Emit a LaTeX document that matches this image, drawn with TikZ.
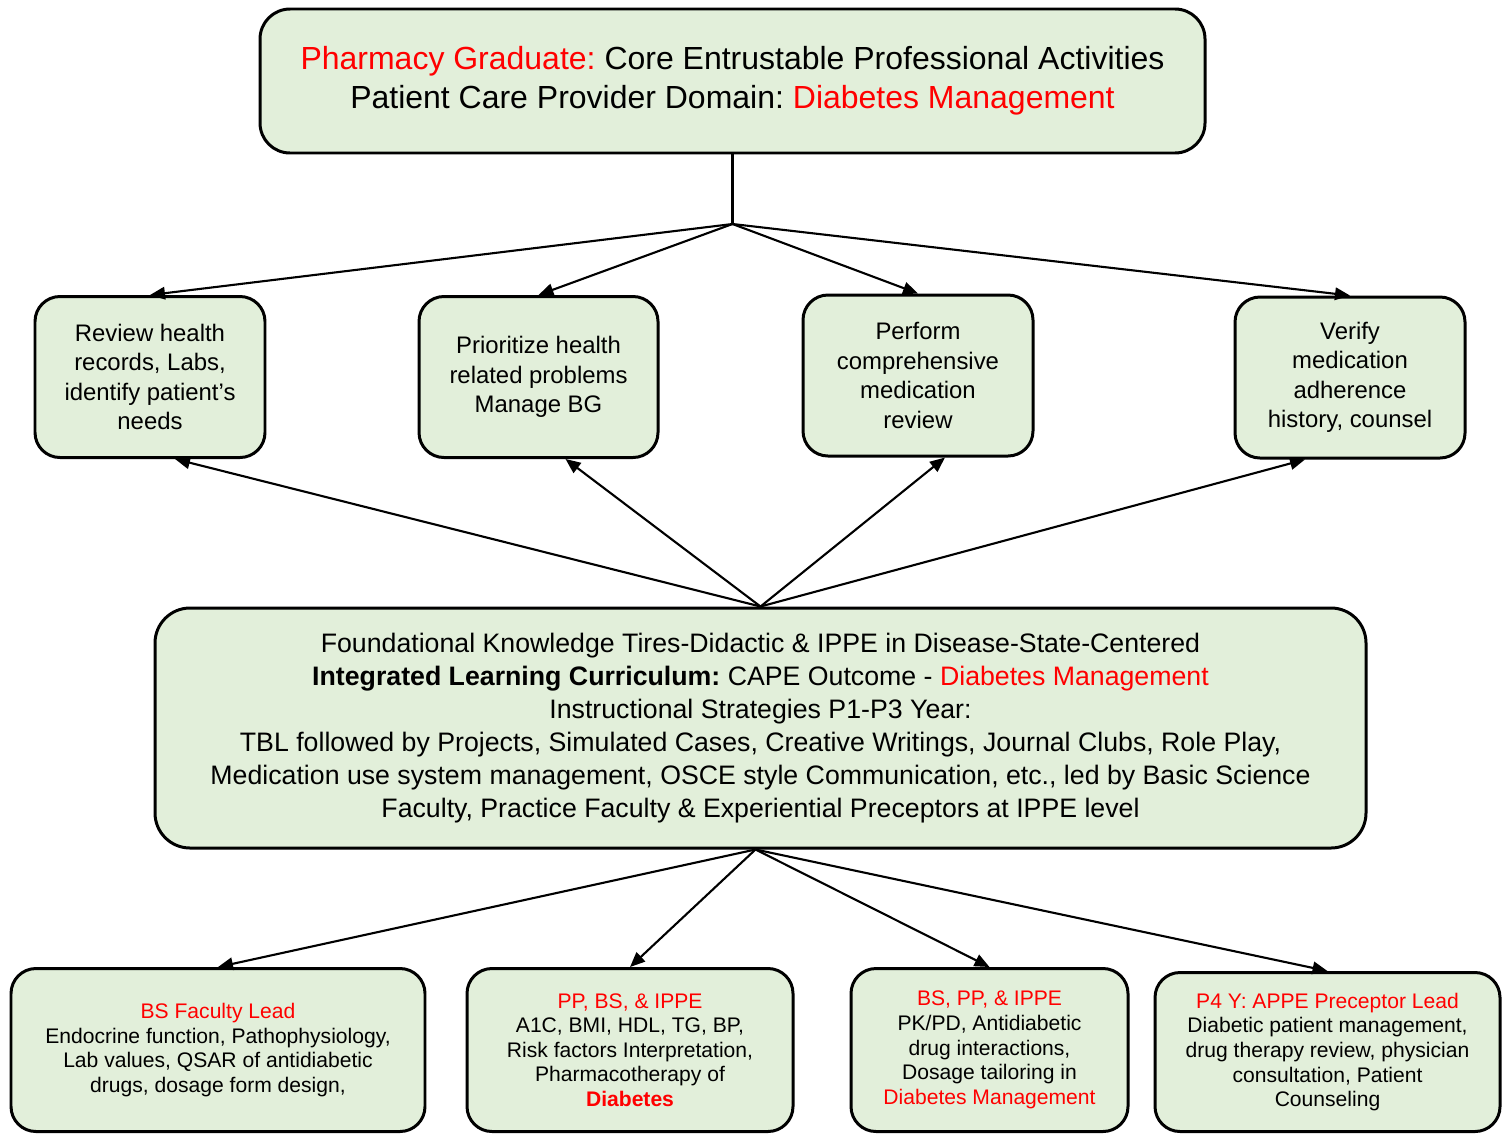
\documentclass[tikz,border=0pt]{standalone}
\usepackage{fontspec}
\setmainfont{Liberation Sans}
\usetikzlibrary{arrows.meta}
\definecolor{boxgreen}{RGB}{226,239,218}
\definecolor{hlred}{RGB}{255,0,0}
\newcommand{\redtxt}[1]{\textcolor{hlred}{#1}}
\frenchspacing

\begin{document}
\begin{tikzpicture}[
    x=0.1mm, y=-0.1mm,
    box/.style={rectangle, draw, line width=0.85pt, rounded corners=2.5mm, fill=boxgreen, align=center, inner sep=0pt},
    goal/.style={box, minimum width=94.5mm, minimum height=14.4mm, rounded corners=3mm, font={\fontsize{9.1}{11.1}\selectfont}},
    task/.style={box, minimum width=23mm, minimum height=16.1mm, font={\fontsize{6.8}{8.4}\selectfont}},
    core/.style={box, minimum width=121.1mm, minimum height=24mm, rounded corners=3.5mm, font={\fontsize{7.6}{9.4}\selectfont}},
    lead/.style={box, minimum height=16.3mm, font={\fontsize{6}{7}\selectfont}},
    arrow/.style={-{Triangle[length=1.5mm,width=1.25mm]}, line width=0.6pt}
]
\useasboundingbox (0,0) rectangle (1509,1133);

\node[goal] (goal) at (732.5,81) {\redtxt{Pharmacy Graduate:} Core Entrustable Professional Activities\\Patient Care Provider Domain: \redtxt{Diabetes Management}};

\node[task] (t1) at (150,377) {Review health\\records, Labs,\\identify patient's\\needs};
\node[task, minimum width=23.9mm] (t2) at (538.5,377) {Prioritize health\\related problems\\Manage BG};
\node[task] (t3) at (918,375.5) {Perform\\comprehensive\\medication\\review};
\node[task] (t4) at (1350,377.5) {Verify\\medication\\adherence\\history, counsel};

\node[core] (core) at (760.5,728) {Foundational Knowledge Tires-Didactic \& IPPE in Disease-State-Centered\\
    \textbf{Integrated Learning Curriculum:} CAPE Outcome - \redtxt{Diabetes Management}\\
    Instructional Strategies P1-P3 Year:\\
    TBL followed by Projects, Simulated Cases, Creative Writings, Journal Clubs, Role Play,\\
    Medication use system management, OSCE style Communication, etc., led by Basic Science\\
    Faculty, Practice Faculty \& Experiential Preceptors at IPPE level};

\node[lead, minimum width=41.4mm] (l1) at (218,1050) {\redtxt{BS Faculty Lead}\\Endocrine function, Pathophysiology,\\Lab values, QSAR of antidiabetic\\drugs, dosage form design,};
\node[lead, minimum width=32.6mm] (l2) at (630,1050) {\redtxt{PP, BS, \& IPPE}\\A1C, BMI, HDL, TG, BP,\\Risk factors Interpretation,\\Pharmacotherapy of\\\redtxt{\textbf{Diabetes}}};
\node[lead, minimum width=27.7mm] (l3) at (989.5,1050) {\redtxt{BS, PP, \& IPPE}\\PK/PD, Antidiabetic\\drug interactions,\\Dosage tailoring in\\\redtxt{Diabetes Management}};
\node[lead, minimum width=34.5mm, minimum height=15.9mm] (l4) at (1327.5,1052) {\redtxt{P4 Y: APPE Preceptor Lead}\\Diabetic patient management,\\drug therapy review, physician\\consultation, Patient\\Counseling};

% goal down to the four tasks
\coordinate (hub) at (732.5,224);
\draw[line width=0.6pt] (goal.south) -- (hub);
\foreach \t in {t1,t2,t3,t4}
    \draw[arrow] (hub) -- (\t.north);

% curriculum feeds the tasks
\draw[arrow] (core.north) -- ([xshift=2.5mm]t1.south);
\draw[arrow] (core.north) -- ([xshift=2.7mm]t2.south);
\draw[arrow] (core.north) -- ([xshift=2.7mm]t3.south);
\draw[arrow] (core.north) -- ([xshift=-4.5mm]t4.south);

% curriculum down to the leads
\foreach \l in {l1,l2,l3,l4}
    \draw[arrow] ([xshift=-0.5mm]core.south) -- (\l.north);
\end{tikzpicture}
\end{document}
